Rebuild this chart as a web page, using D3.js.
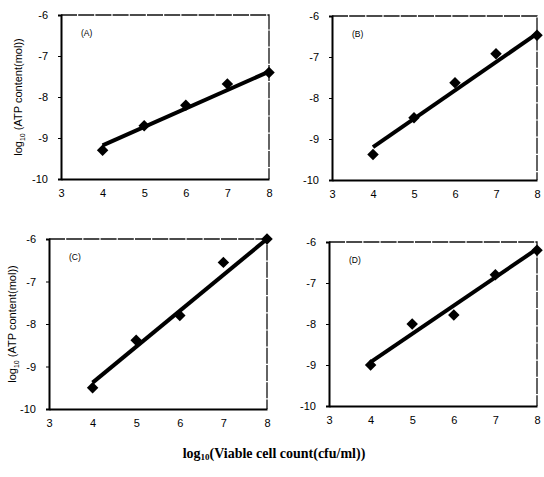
<!DOCTYPE html>
<html>
<head>
<meta charset="utf-8">
<script src="https://cdn.jsdelivr.net/npm/d3@7"></script>
<style>
  body { margin: 0; background: #fff; }
  svg { display: block; }
</style>
</head>
<body>
<svg id="chart" width="544" height="477"></svg>
<script>
// values
var xValues = [4, 5, 6, 7, 8];
var seriesA = [-9.3, -8.7, -8.2, -7.68, -7.4];
var seriesB = [-9.38, -8.48, -7.63, -6.92, -6.47];
var seriesC = [-9.5, -8.38, -7.8, -6.55, -6.0];
var seriesD = [-9.0, -8.0, -7.78, -6.8, -6.2];
// fitted lines (end points)
var fitA = [[4, -9.18], [8, -7.38]];
var fitB = [[4, -9.2], [8, -6.43]];
var fitC = [[4, -9.38], [8, -6.0]];
var fitD = [[4, -8.93], [8, -6.17]];
var xTicks = [3, 4, 5, 6, 7, 8];
var yTicks = [-10, -9, -8, -7, -6];
var panelNames = ["(A)", "(B)", "(C)", "(D)"];

var svg = d3.select("#chart");

var panels = [
  {name: panelNames[0], ys: seriesA, fit: fitA, left: 61, right: 269, top: 15, bottom: 179, ytitle: 39},
  {name: panelNames[1], ys: seriesB, fit: fitB, left: 332, right: 537, top: 16, bottom: 180, ytitle: 0},
  {name: panelNames[2], ys: seriesC, fit: fitC, left: 49, right: 267, top: 239, bottom: 409, ytitle: 33},
  {name: panelNames[3], ys: seriesD, fit: fitD, left: 329, right: 537, top: 242, bottom: 406, ytitle: 0}
];

panels.forEach(function(p) {
  var x = d3.scaleLinear().domain([3, 8]).range([p.left, p.right]);
  var y = d3.scaleLinear().domain([-10, -6]).range([p.bottom, p.top]);
  var g = svg.append("g");

  // top and right borders (thin, broken like the scan)
  g.append("path")
    .attr("d", "M" + p.left + "," + p.top + "H" + p.right + "V" + p.bottom)
    .attr("fill", "none")
    .attr("stroke", "#111")
    .attr("stroke-width", 1.3)
    .attr("stroke-dasharray", "16,1.2");

  var xAxis = g.append("g")
    .attr("transform", "translate(0," + p.bottom + ")")
    .call(d3.axisBottom(x).tickValues(xTicks).tickSize(0).tickPadding(10).tickFormat(function(d) { return d; }));
  var yAxis = g.append("g")
    .attr("transform", "translate(" + p.left + ",0)")
    .call(d3.axisLeft(y).tickValues(yTicks).tickSize(3).tickPadding(10).tickFormat(function(d) { return d; }));

  [xAxis, yAxis].forEach(function(a) {
    a.select(".domain").attr("stroke", "#000").attr("stroke-width", 2);
    a.selectAll(".tick line").attr("stroke", "#000").attr("stroke-width", 1);
    a.selectAll("text")
      .attr("fill", "#000")
      .style("font-family", "'Liberation Sans', Arial, sans-serif")
      .style("font-size", "11px");
  });

  g.append("text")
    .attr("x", p.left + 20)
    .attr("y", p.top + 21)
    .style("font-family", "'Liberation Sans', Arial, sans-serif")
    .style("font-size", "8.5px")
    .text(p.name);

  var line = d3.line().x(function(d) { return x(d[0]); }).y(function(d) { return y(d[1]); });
  g.append("path")
    .datum(p.fit)
    .attr("d", line)
    .attr("fill", "none")
    .attr("stroke", "#000")
    .attr("stroke-width", 4);

  g.selectAll(".pt")
    .data(xValues.map(function(v, i) { return [v, p.ys[i]]; }))
    .enter()
    .append("path")
    .attr("class", "pt")
    .attr("d", d3.symbol().type(d3.symbolSquare).size(66))
    .attr("transform", function(d) { return "translate(" + x(d[0]) + "," + y(d[1]) + ") rotate(45)"; })
    .attr("fill", "#000");

  if (p.ytitle) {
    var t = g.append("text")
      .attr("transform", "translate(" + (p.left - p.ytitle) + "," + ((p.top + p.bottom) / 2) + ") rotate(-90)")
      .attr("text-anchor", "middle")
      .style("font-family", "'Liberation Sans', Arial, sans-serif")
      .style("font-size", "11px");
    t.append("tspan").text("log");
    t.append("tspan").attr("dy", 3).style("font-size", "7px").text("10");
    t.append("tspan").attr("dy", -3).text(" (ATP content(mol))");
  }
});

var xt = svg.append("text")
  .attr("x", 274)
  .attr("y", 458)
  .attr("text-anchor", "middle")
  .style("font-family", "'Liberation Serif', 'Times New Roman', serif")
  .style("font-size", "14px")
  .style("font-weight", "bold");
xt.append("tspan").text("log");
xt.append("tspan").attr("dy", 2).style("font-size", "9px").text("10");
xt.append("tspan").attr("dy", -2).text("(Viable cell count(cfu/ml))");
</script>
</body>
</html>
